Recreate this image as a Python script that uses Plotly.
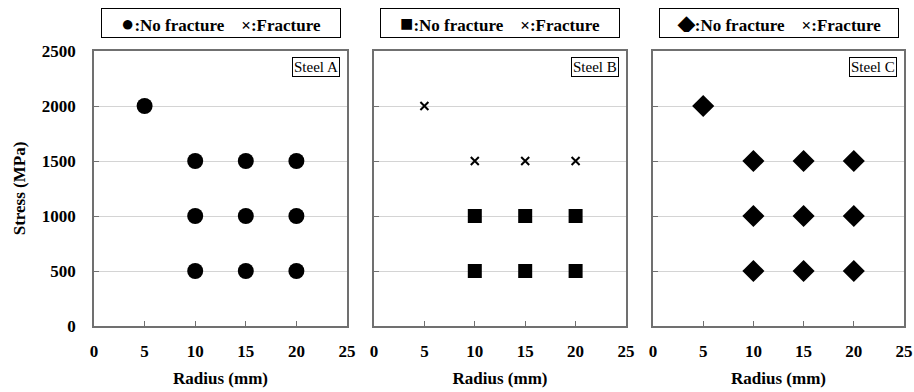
import plotly.graph_objects as go

# Test conditions: radius (mm) and applied stress (MPa)
radius_all = [5, 10, 15, 20, 10, 15, 20, 10, 15, 20]
stress_all = [2000, 1500, 1500, 1500, 1000, 1000, 1000, 500, 500, 500]

# Steel B: fracture at the two highest stress levels
radius_b_frac = [5, 10, 15, 20]
stress_b_frac = [2000, 1500, 1500, 1500]
radius_b_ok = [10, 15, 20, 10, 15, 20]
stress_b_ok = [1000, 1000, 1000, 500, 500, 500]

x_ticks = [0, 5, 10, 15, 20, 25]
y_ticks = [0, 500, 1000, 1500, 2000, 2500]
steel_names = ["Steel A", "Steel B", "Steel C"]
legend_symbols = ["●", "■", "◆"]

W, H = 914, 392
FONT = "Liberation Serif"

panels_px = [(94, 347), (374, 626), (653, 904)]
y_bot_px, y_top_px = 326, 51

fig = go.Figure()

fig.add_trace(go.Scatter(x=radius_all, y=stress_all, mode="markers",
                         marker=dict(symbol="circle", size=16, color="black"),
                         xaxis="x", yaxis="y", showlegend=False))
fig.add_trace(go.Scatter(x=radius_b_ok, y=stress_b_ok, mode="markers",
                         marker=dict(symbol="square", size=14, color="black"),
                         xaxis="x2", yaxis="y2", showlegend=False))
fig.add_trace(go.Scatter(x=radius_b_frac, y=stress_b_frac, mode="markers",
                         marker=dict(symbol="x-thin", size=8, color="black",
                                     line=dict(width=2, color="black")),
                         xaxis="x2", yaxis="y2", showlegend=False))
fig.add_trace(go.Scatter(x=radius_all, y=stress_all, mode="markers",
                         marker=dict(symbol="diamond", size=17, color="black"),
                         xaxis="x3", yaxis="y3", showlegend=False))

ydom = [1 - y_bot_px / H, 1 - y_top_px / H]
bold = dict(family=FONT, size=17, color="black", weight="bold")
layout = dict(
    width=W, height=H,
    margin=dict(l=0, r=0, t=0, b=0, autoexpand=False),
    paper_bgcolor="white", plot_bgcolor="white",
    font=dict(family=FONT, color="black"),
    annotations=[],
)

for i, (x0, x1) in enumerate(panels_px):
    sfx = "" if i == 0 else str(i + 1)
    layout["xaxis" + sfx] = dict(
        domain=[x0 / W, x1 / W], range=[0, 25], tickvals=x_ticks,
        showline=True, mirror=True, linecolor="#707070", linewidth=1.5,
        showgrid=False, zeroline=False, automargin=False,
        ticks="inside", ticklen=5, tickcolor="#707070",
        ticklabelstandoff=9,
        tickfont=bold, anchor="y" + sfx,
        title=dict(text="Radius (mm)", font=bold, standoff=12),
    )
    layout["yaxis" + sfx] = dict(
        domain=ydom, range=[0, 2500], tickvals=y_ticks,
        showline=True, mirror=True, linecolor="#707070", linewidth=1.5,
        showgrid=True, gridcolor="#d4d4d4", gridwidth=1, zeroline=False,
        automargin=False,
        ticks="inside", ticklen=5, tickcolor="#707070",
        ticklabelstandoff=13,
        showticklabels=(i == 0), tickfont=bold, anchor="x" + sfx,
    )
    xc = (x0 + x1) / 2 / W
    legend_text = (f"<span style='font-size:22px'>{legend_symbols[i]}</span>"
                   ":No fracture    ×:Fracture")
    layout["annotations"].append(dict(
        text=legend_text, xref="paper", yref="paper",
        x=xc, y=1 - 23 / H, xanchor="center", yanchor="middle",
        showarrow=False,
        font=dict(family=FONT, size=17, color="black", weight="bold"),
        bordercolor="black", borderwidth=1, borderpad=5, bgcolor="white",
        width=228, height=18,
    ))
    layout["annotations"].append(dict(
        text=steel_names[i], xref="paper", yref="paper",
        x=(x1 - 7) / W, y=1 - 67 / H, xanchor="right", yanchor="middle",
        showarrow=False, font=dict(family=FONT, size=15, color="black"),
        bordercolor="black", borderwidth=1, borderpad=1, bgcolor="white",
    ))

layout["yaxis"]["title"] = dict(text="Stress (MPa)", font=bold, standoff=12)

fig.update_layout(**layout)
fig.write_html("out.html")
